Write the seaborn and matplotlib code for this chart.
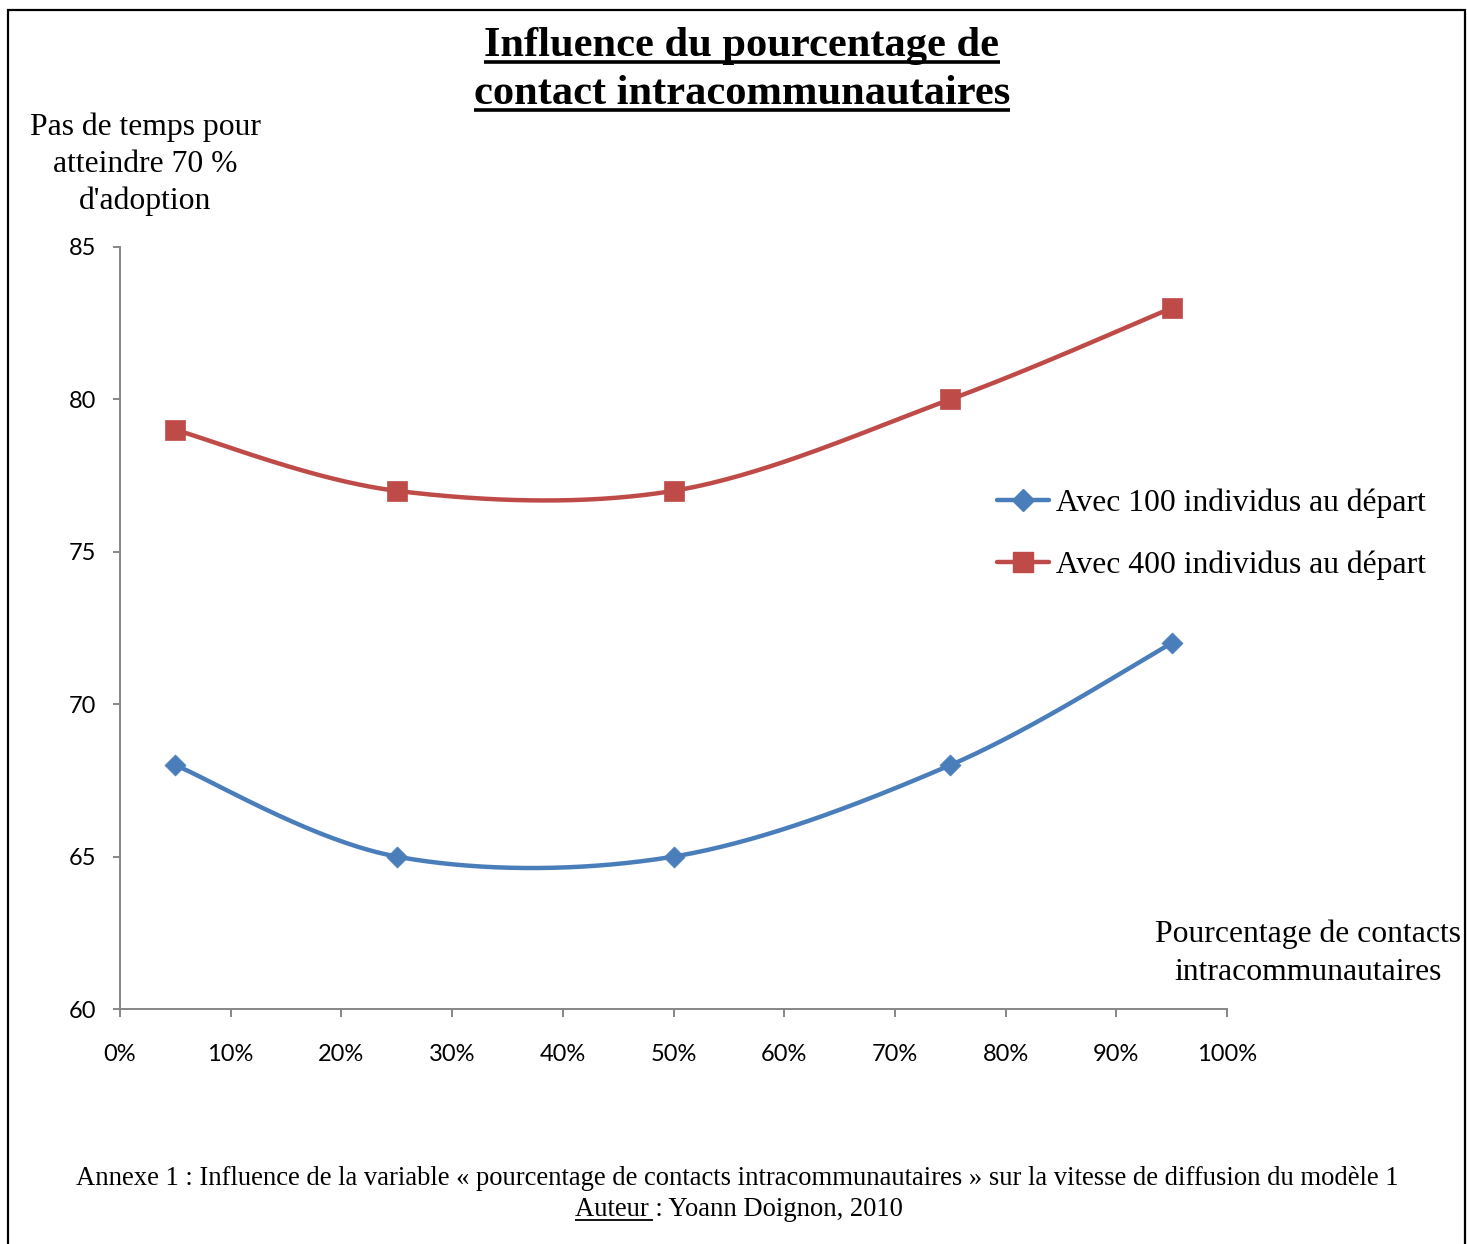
import numpy as np
import pandas as pd
import seaborn as sns
import matplotlib.pyplot as plt
from matplotlib.lines import Line2D
from matplotlib.patches import Rectangle

# Share of intra-community contacts (x) and time steps needed to reach 70 % adoption (y)
contact_share = [0.05, 0.25, 0.50, 0.75, 0.95]
steps_100 = [68, 65, 65, 68, 72]
steps_400 = [79, 77, 77, 80, 83]
series_labels = ["Avec 100 individus au départ", "Avec 400 individus au départ"]

x_ticks = [0.0, 0.1, 0.2, 0.3, 0.4, 0.5, 0.6, 0.7, 0.8, 0.9, 1.0]
x_tick_labels = ["0%", "10%", "20%", "30%", "40%", "50%", "60%", "70%", "80%", "90%", "100%"]
y_ticks = [60, 65, 70, 75, 80, 85]

title_lines = ["Influence du pourcentage de", "contact intracommunautaires"]
y_label_lines = ["Pas de temps pour", "atteindre 70 %", "d'adoption"]
x_label_lines = ["Pourcentage de contacts", "intracommunautaires"]
caption_line = ("Annexe 1 : Influence de la variable « pourcentage de contacts "
                "intracommunautaires » sur la vitesse de diffusion du modèle 1")
author_word = "Auteur"
author_rest = " : Yoann Doignon, 2010"

BLUE = "#4A7EBB"
RED = "#BE4B48"
GREY = "#868686"
SERIF = "Liberation Serif"
SANS = "Lato"


def smooth_path(xs, ys, n=60):
    """Piecewise cubic Bezier through the points (Catmull-Rom style tangents)."""
    pts = np.column_stack([xs, ys]).astype(float)
    ext = np.vstack([pts[0], pts, pts[-1]])
    t = np.linspace(0.0, 1.0, n)[:, None]
    parts = []
    for i in range(len(pts) - 1):
        p0, p1, p2, p3 = ext[i], ext[i + 1], ext[i + 2], ext[i + 3]
        c1 = p1 + (p2 - p0) / 6.0
        c2 = p2 - (p3 - p1) / 6.0
        seg = ((1 - t) ** 3) * p1 + 3 * ((1 - t) ** 2) * t * c1 \
            + 3 * (1 - t) * (t ** 2) * c2 + (t ** 3) * p2
        parts.append(seg if i == 0 else seg[1:])
    curve = np.vstack(parts)
    return pd.DataFrame({"x": curve[:, 0], "y": curve[:, 1]})


sns.set_theme(style="white")
plt.rcParams["font.family"] = [SERIF, "DejaVu Serif"]
plt.rcParams["text.color"] = "black"
plt.rcParams["xtick.color"] = "black"
plt.rcParams["ytick.color"] = "black"

W, H = 1467, 1244
fig = plt.figure(figsize=(W / 100, H / 100), dpi=100)
fig.patch.set_facecolor("white")
ax = fig.add_axes([120 / W, 1 - 1009 / H, (1227 - 120) / W, (1009 - 247) / H])
ax.set_facecolor("white")

series = [(steps_100, BLUE, "D", 115), (steps_400, RED, "s", 200)]
for values, color, marker, size in series:
    curve = smooth_path(contact_share, values)
    sns.lineplot(data=curve, x="x", y="y", sort=False, estimator=None,
                 color=color, linewidth=3.2, ax=ax, legend=False, zorder=2)
    sns.scatterplot(x=contact_share, y=values, marker=marker, s=size,
                    color=color, edgecolor=color, linewidth=0.5, ax=ax,
                    legend=False, zorder=3)

ax.set_xlim(0, 1)
ax.set_ylim(60, 85)
ax.set_xticks(x_ticks)
ax.set_xticklabels(x_tick_labels)
ax.set_yticks(y_ticks)
ax.set_xlabel("")
ax.set_ylabel("")

for side in ["top", "right"]:
    ax.spines[side].set_visible(False)
for side in ["left", "bottom"]:
    ax.spines[side].set_color(GREY)
    ax.spines[side].set_linewidth(1.4)

ax.tick_params(axis="x", direction="out", length=6, width=1.4, color=GREY,
               pad=19, labelsize=17, labelcolor="black", bottom=True)
ax.tick_params(axis="y", direction="out", length=5, width=1.4, color=GREY,
               pad=12, labelsize=17, labelcolor="black", left=True)
for lab in ax.get_xticklabels() + ax.get_yticklabels():
    lab.set_family(SANS)

# Legend
handles = [
    Line2D([], [], color=BLUE, lw=3.2, marker="D", markersize=10.7,
           markeredgecolor=BLUE),
    Line2D([], [], color=RED, lw=3.2, marker="s", markersize=14,
           markeredgecolor=RED),
]
fig.legend(handles, series_labels, loc="center left",
           bbox_to_anchor=(997 / W, 1 - 534 / H), frameon=False,
           prop={"family": SERIF, "size": 22.8}, handlelength=1.65,
           handletextpad=0.2, labelspacing=1.02, borderpad=0,
           borderaxespad=0)

# Title
title_texts = []
for line, base in zip(title_lines, [56, 104]):
    t = fig.text(742 / W, 1 - base / H, line, ha="center", va="baseline",
                 fontsize=30.6, fontweight="bold", family=SERIF)
    title_texts.append(t)

# Axis titles
for line, base in zip(y_label_lines, [135, 172, 209]):
    fig.text(145 / W, 1 - base / H, line, ha="center", va="baseline",
             fontsize=22.8, family=SERIF)
for line, base in zip(x_label_lines, [942, 980]):
    fig.text(1308 / W, 1 - base / H, line, ha="center", va="baseline",
             fontsize=22.8, family=SERIF)

# Caption
fig.text(737 / W, 1 - 1185 / H, caption_line, ha="center", va="baseline",
         fontsize=19.15, family=SERIF)
author_full = fig.text(739 / W, 1 - 1216 / H, author_word + author_rest,
                       ha="center", va="baseline", fontsize=19.15, family=SERIF)

# Outer frame
fig.add_artist(Rectangle((8 / W, -0.01), (1465 - 8) / W, 1 - 10 / H + 0.01,
                         transform=fig.transFigure, fill=False,
                         edgecolor="black", linewidth=1.6))

# Underlines
fig.canvas.draw()
renderer = fig.canvas.get_renderer()
inv = fig.transFigure.inverted()


def underline(x0_px, x1_px, y_px, lw):
    (fx0, fy), (fx1, _) = inv.transform([(x0_px, y_px), (x1_px, y_px)])
    fig.add_artist(Line2D([fx0, fx1], [fy, fy], transform=fig.transFigure,
                          color="black", linewidth=lw, solid_capstyle="butt"))


for t, base in zip(title_texts, [56, 104]):
    bb = t.get_window_extent(renderer)
    underline(bb.x0, bb.x1, H - base - 6, 2.6)

bb_full = author_full.get_window_extent(renderer)
probe = fig.text(0, 0, author_word, fontsize=19.15, family=SERIF)
word_w = probe.get_window_extent(renderer).width
probe.remove()
underline(bb_full.x0, bb_full.x0 + word_w + 4, H - 1216 - 4, 1.3)

fig.savefig("out.png", dpi=100, facecolor="white")
